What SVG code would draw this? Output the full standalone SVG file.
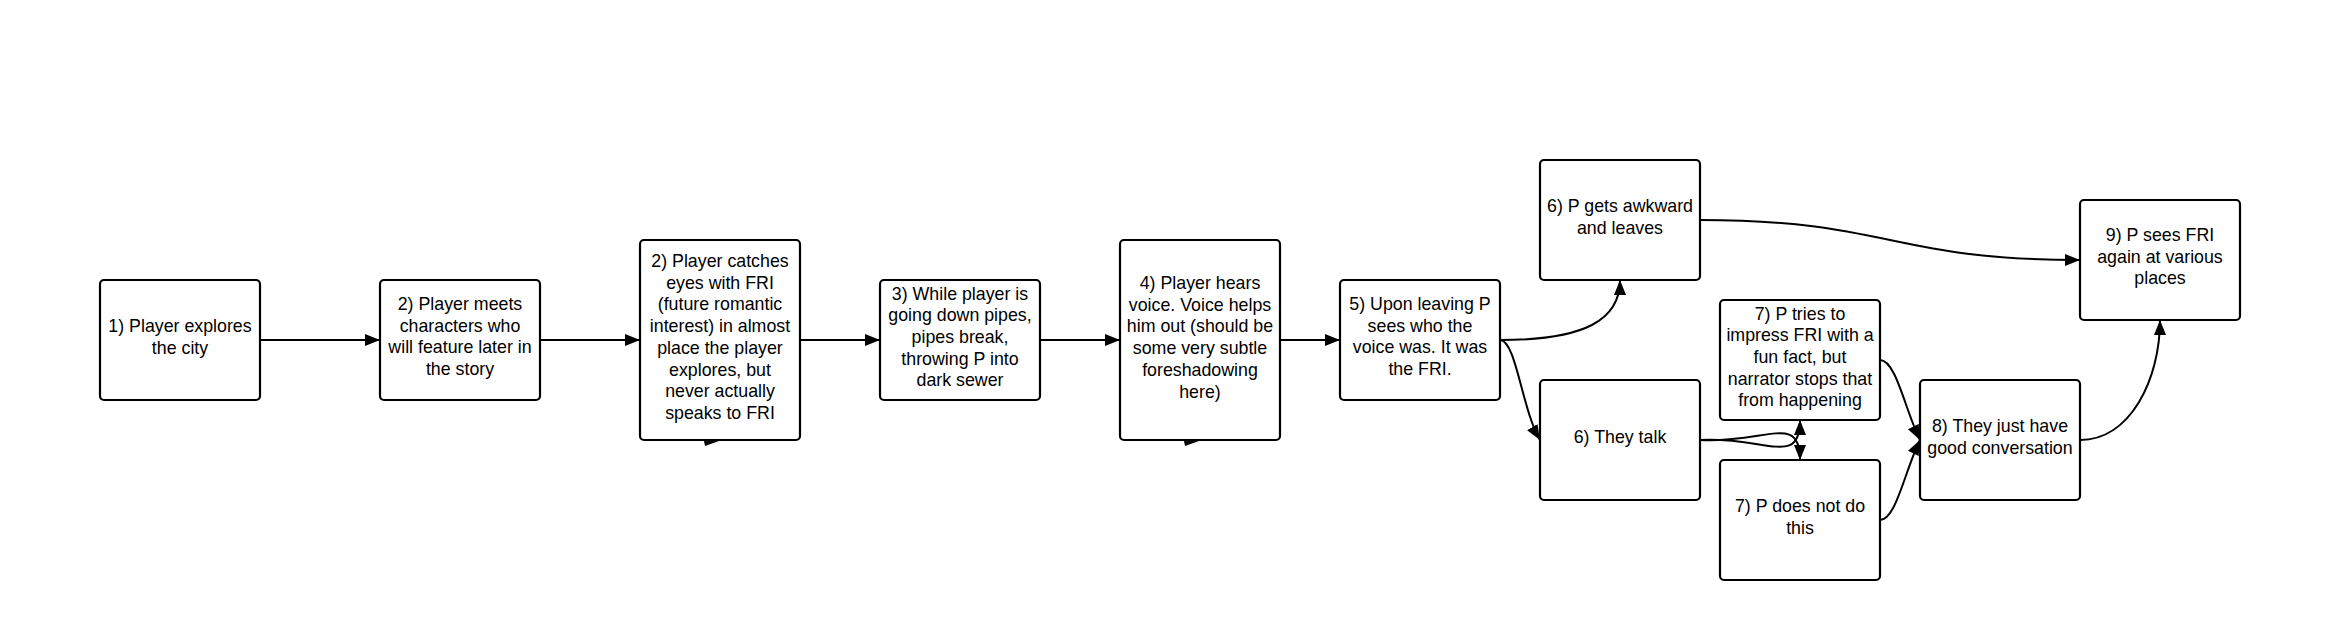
<svg xmlns="http://www.w3.org/2000/svg" width="2338" height="631" viewBox="0 0 2338 631">
<defs>
<style>
.box{fill:#fff;stroke:#000;stroke-width:2.2}
.lbl{font-family:"Liberation Sans",Arial,sans-serif;font-size:17.8px;fill:#000;text-anchor:middle}
.con{fill:none;stroke:#000;stroke-width:2}
.stub{fill:#000;stroke:none}
</style>
<marker id="ah" markerUnits="userSpaceOnUse" markerWidth="16" markerHeight="14" refX="15" refY="6" orient="auto">
<path d="M0,0 L15,6 L0,12 z" fill="#000"/>
</marker>
</defs>
<rect width="2338" height="631" fill="#fff"/>
<g id="connectors">
<path class="con" d="M260,340 L380,340" marker-end="url(#ah)"/>
<path class="con" d="M540,340 L640,340" marker-end="url(#ah)"/>
<path class="con" d="M800,340 L880,340" marker-end="url(#ah)"/>
<path class="con" d="M1040,340 L1120,340" marker-end="url(#ah)"/>
<path class="con" d="M1280,340 L1340,340" marker-end="url(#ah)"/>
<path class="con" d="M1500,340 C1585,340 1620,320 1620,280" marker-end="url(#ah)"/>
<path class="con" d="M1500,340 C1516,340 1522,410 1540,440" marker-end="url(#ah)"/>
<path class="con" d="M1700,220 C1890,220 1890,260 2080,260" marker-end="url(#ah)"/>
<path class="con" d="M1700,440 C1765,436 1800,468 1800,420" marker-end="url(#ah)"/>
<path class="con" d="M1700,440 C1765,444 1800,412 1800,460" marker-end="url(#ah)"/>
<path class="con" d="M1880,360 C1896,360 1905,410 1920,440" marker-end="url(#ah)"/>
<path class="con" d="M1880,520 C1896,520 1905,470 1920,440" marker-end="url(#ah)"/>
<path class="con" d="M2080,440 C2130,440 2160,380 2160,320" marker-end="url(#ah)"/>
<polygon class="stub" points="704,441 719,441 705,446"/>
<polygon class="stub" points="1184,441 1199,441 1185,446"/>
</g>
<g id="n1"><rect class="box" x="100" y="280" width="160" height="120" rx="4"/>
<text class="lbl" x="180" y="332"><tspan x="180">1) Player explores</tspan><tspan x="180" dy="21.7">the city</tspan></text></g>
<g id="n2"><rect class="box" x="380" y="280" width="160" height="120" rx="4"/>
<text class="lbl" x="460" y="310"><tspan x="460">2) Player meets</tspan><tspan x="460" dy="21.7">characters who</tspan><tspan x="460" dy="21.7">will feature later in</tspan><tspan x="460" dy="21.7">the story</tspan></text></g>
<g id="n2b"><rect class="box" x="640" y="240" width="160" height="200" rx="4"/>
<text class="lbl" x="720" y="267"><tspan x="720">2) Player catches</tspan><tspan x="720" dy="21.7">eyes with FRI</tspan><tspan x="720" dy="21.7">(future romantic</tspan><tspan x="720" dy="21.7">interest) in almost</tspan><tspan x="720" dy="21.7">place the player</tspan><tspan x="720" dy="21.7">explores, but</tspan><tspan x="720" dy="21.7">never actually</tspan><tspan x="720" dy="21.7">speaks to FRI</tspan></text></g>
<g id="n3"><rect class="box" x="880" y="280" width="160" height="120" rx="4"/>
<text class="lbl" x="960" y="299.6"><tspan x="960">3) While player is</tspan><tspan x="960" dy="21.7">going down pipes,</tspan><tspan x="960" dy="21.7">pipes break,</tspan><tspan x="960" dy="21.7">throwing P into</tspan><tspan x="960" dy="21.7">dark sewer</tspan></text></g>
<g id="n4"><rect class="box" x="1120" y="240" width="160" height="200" rx="4"/>
<text class="lbl" x="1200" y="289"><tspan x="1200">4) Player hears</tspan><tspan x="1200" dy="21.7">voice. Voice helps</tspan><tspan x="1200" dy="21.7">him out (should be</tspan><tspan x="1200" dy="21.7">some very subtle</tspan><tspan x="1200" dy="21.7">foreshadowing</tspan><tspan x="1200" dy="21.7">here)</tspan></text></g>
<g id="n5"><rect class="box" x="1340" y="280" width="160" height="120" rx="4"/>
<text class="lbl" x="1420" y="310"><tspan x="1420">5) Upon leaving P</tspan><tspan x="1420" dy="21.7">sees who the</tspan><tspan x="1420" dy="21.7">voice was. It was</tspan><tspan x="1420" dy="21.7">the FRI.</tspan></text></g>
<g id="n6a"><rect class="box" x="1540" y="160" width="160" height="120" rx="4"/>
<text class="lbl" x="1620" y="212"><tspan x="1620">6) P gets awkward</tspan><tspan x="1620" dy="21.7">and leaves</tspan></text></g>
<g id="n6b"><rect class="box" x="1540" y="380" width="160" height="120" rx="4"/>
<text class="lbl" x="1620" y="443">6) They talk</text></g>
<g id="n7a"><rect class="box" x="1720" y="300" width="160" height="120" rx="4"/>
<text class="lbl" x="1800" y="319.5"><tspan x="1800">7) P tries to</tspan><tspan x="1800" dy="21.7">impress FRI with a</tspan><tspan x="1800" dy="21.7">fun fact, but</tspan><tspan x="1800" dy="21.7">narrator stops that</tspan><tspan x="1800" dy="21.7">from happening</tspan></text></g>
<g id="n7b"><rect class="box" x="1720" y="460" width="160" height="120" rx="4"/>
<text class="lbl" x="1800" y="512"><tspan x="1800">7) P does not do</tspan><tspan x="1800" dy="21.7">this</tspan></text></g>
<g id="n8"><rect class="box" x="1920" y="380" width="160" height="120" rx="4"/>
<text class="lbl" x="2000" y="432"><tspan x="2000">8) They just have</tspan><tspan x="2000" dy="21.7">good conversation</tspan></text></g>
<g id="n9"><rect class="box" x="2080" y="200" width="160" height="120" rx="4"/>
<text class="lbl" x="2160" y="241"><tspan x="2160">9) P sees FRI</tspan><tspan x="2160" dy="21.7">again at various</tspan><tspan x="2160" dy="21.7">places</tspan></text></g>
</svg>
